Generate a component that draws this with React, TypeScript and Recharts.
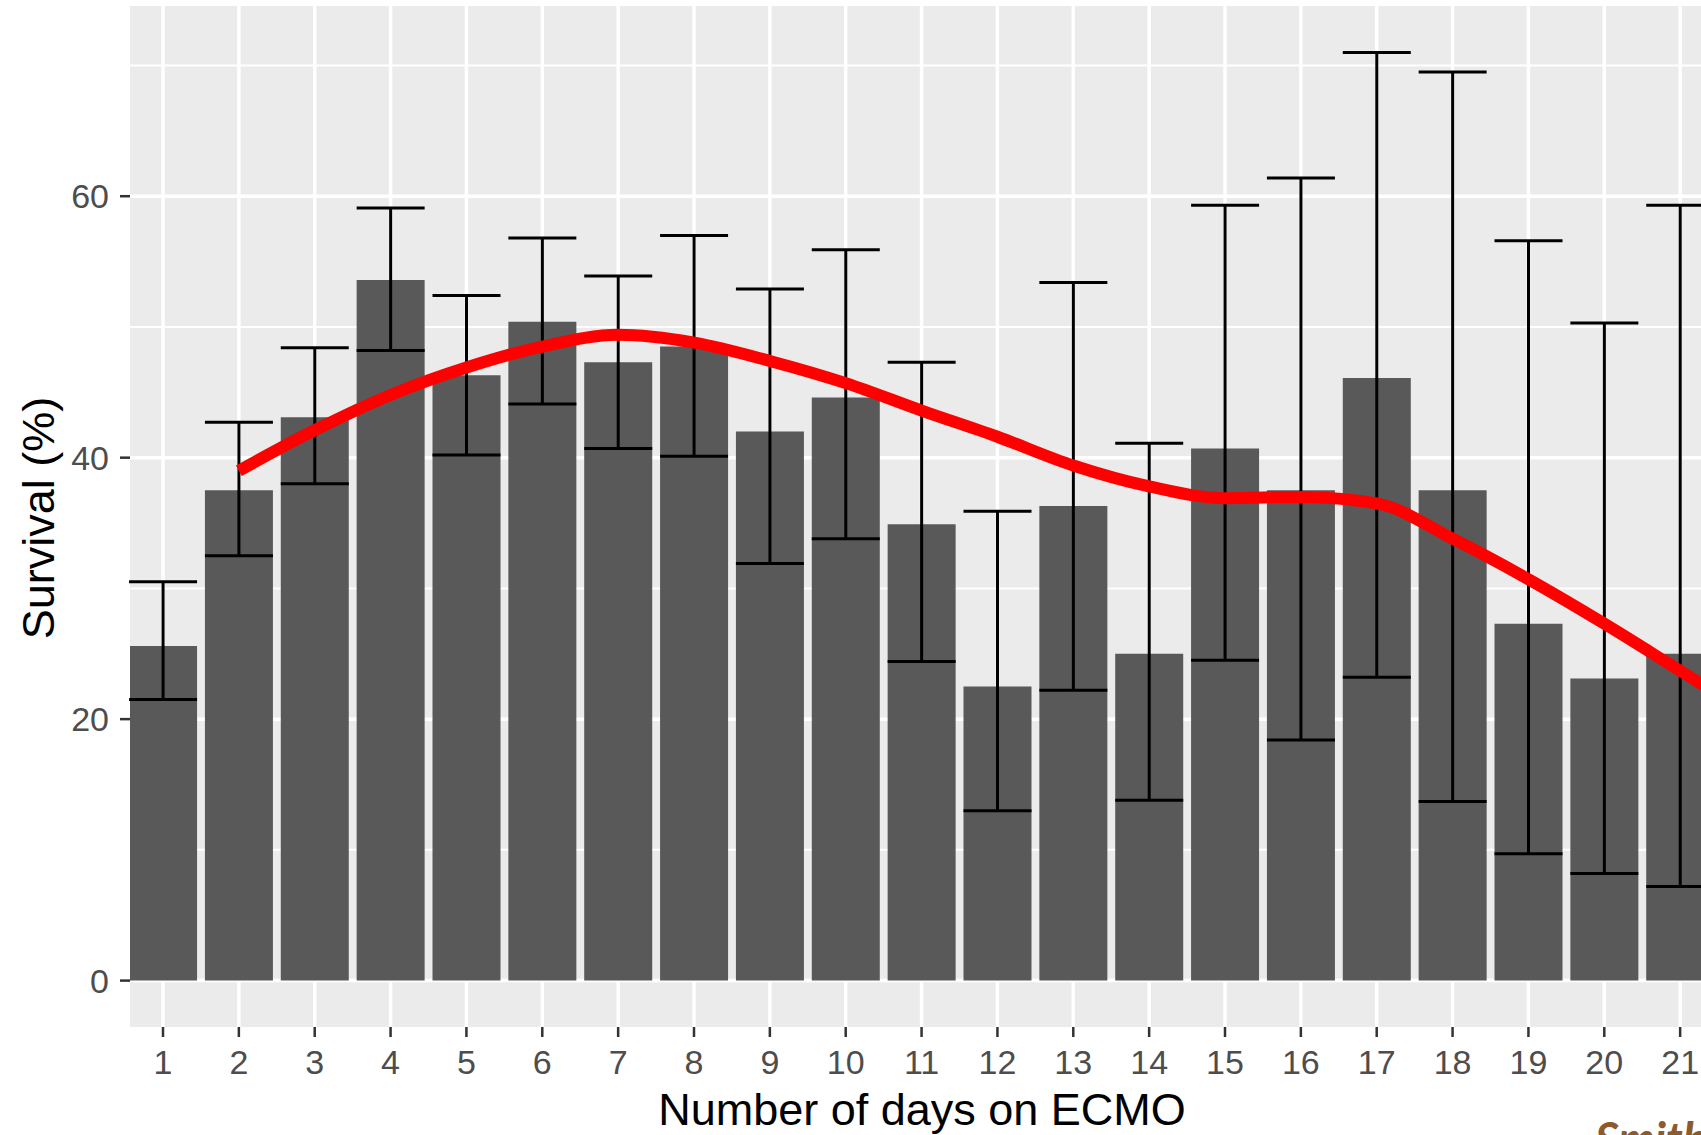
import {
  Bar,
  CartesianGrid,
  ComposedChart,
  ErrorBar,
  Line,
  XAxis,
  YAxis,
} from 'recharts';

// days on ECMO, survival % per day, 95% CI bounds
const days = [1, 2, 3, 4, 5, 6, 7, 8, 9, 10, 11, 12, 13, 14, 15, 16, 17, 18, 19, 20, 21];
const survival = [25.6, 37.5, 43.1, 53.6, 46.3, 50.4, 47.3, 48.5, 42.0, 44.6, 34.9, 22.5, 36.3, 25.0, 40.7, 37.5, 46.1, 37.5, 27.3, 23.1, 25.0];
const lower = [21.5, 32.5, 38.0, 48.2, 40.2, 44.1, 40.7, 40.1, 31.9, 33.8, 24.4, 13.0, 22.2, 13.8, 24.5, 18.4, 23.2, 13.7, 9.7, 8.2, 7.2];
const upper = [30.5, 42.7, 48.4, 59.1, 52.4, 56.8, 53.9, 57.0, 52.9, 55.9, 47.3, 35.9, 53.4, 41.1, 59.3, 61.4, 71.0, 69.5, 56.6, 50.3, 59.3];

// smoothed trend (red curve)
const fitDays = [2, 3, 4, 5, 6, 7, 8, 9, 10, 11, 12, 13, 14, 15, 16, 17, 18, 19, 20, 21, 21.5];
const fitValues = [39.0, 42.1, 44.8, 46.9, 48.5, 49.4, 48.8, 47.4, 45.7, 43.6, 41.6, 39.4, 37.8, 36.9, 37.0, 36.5, 33.8, 30.7, 27.3, 23.7, 21.9];

const yMajor = [0, 20, 40, 60];
const yMinor = [10, 30, 50, 70];
const xDomain = [0.565, 22.58];

const FONT = '"Liberation Sans", Arial, sans-serif';

const data = days.map((d, i) => ({
  day: d,
  survival: survival[i],
  err: [survival[i] - lower[i], upper[i] - survival[i]],
}));

const fit = fitDays.map((d, i) => ({ day: d, fit: fitValues[i] }));

export default function App() {
  return (
    <div
      style={{
        position: 'absolute',
        left: 0,
        top: 0,
        width: 1701,
        height: 1135,
        overflow: 'hidden',
        background: '#fff',
        fontFamily: FONT,
      }}
    >
      <ComposedChart
        width={1800}
        height={1135}
        data={data}
        margin={{ top: 6, right: 0, bottom: 0, left: 0 }}
      >
        <CartesianGrid
          horizontalValues={yMajor}
          verticalValues={days}
          fill="#EBEBEB"
          fillOpacity={1}
          stroke="#FFFFFF"
          strokeWidth={3.5}
        />
        <CartesianGrid horizontalValues={yMinor} vertical={false} stroke="#FFFFFF" strokeWidth={2} />
        <XAxis
          dataKey="day"
          type="number"
          domain={xDomain}
          ticks={days}
          interval={0}
          allowDataOverflow
          height={108}
          axisLine={false}
          tickSize={10}
          tickMargin={13}
          tickLine={{ stroke: '#333333', strokeWidth: 2.5 }}
          tick={{ fontSize: 34, fill: '#4D4D4D', fontFamily: FONT }}
        />
        {/* separate hidden axis so the curve's points don't shrink the bar band */}
        <XAxis xAxisId="fit" dataKey="day" type="number" domain={xDomain} allowDataOverflow hide />
        <YAxis
          type="number"
          domain={[-3.55, 74.55]}
          ticks={yMajor}
          allowDataOverflow
          width={130}
          axisLine={false}
          tickSize={10}
          tickMargin={11}
          tickLine={{ stroke: '#333333', strokeWidth: 2.5 }}
          tick={{ fontSize: 34, fill: '#4D4D4D', fontFamily: FONT }}
        />
        <Bar dataKey="survival" fill="#595959" barSize={68} isAnimationActive={false}>
          <ErrorBar dataKey="err" width={34} stroke="#000000" strokeWidth={3} isAnimationActive={false} />
        </Bar>
        <Line
          xAxisId="fit"
          data={fit}
          dataKey="fit"
          type="monotone"
          stroke="#FF0000"
          strokeWidth={12}
          dot={false}
          activeDot={false}
          isAnimationActive={false}
        />
      </ComposedChart>

      <div
        style={{
          position: 'absolute',
          left: 922,
          top: 1087,
          transform: 'translateX(-50%)',
          fontSize: 45,
          lineHeight: 1,
          whiteSpace: 'nowrap',
          color: '#000',
        }}
      >
        Number of days on ECMO
      </div>
      <div
        style={{
          position: 'absolute',
          left: 38,
          top: 518,
          transform: 'translate(-50%, -50%) rotate(-90deg)',
          fontSize: 45,
          lineHeight: 1,
          whiteSpace: 'nowrap',
          color: '#000',
        }}
      >
        Survival (%)
      </div>
      <div
        style={{
          position: 'absolute',
          left: 1595,
          top: 1115,
          fontFamily: 'Lato, sans-serif',
          fontStyle: 'italic',
          fontWeight: 700,
          fontSize: 46,
          lineHeight: 1,
          whiteSpace: 'nowrap',
          color: '#8C5A2B',
        }}
      >
        Smith et al.
      </div>
    </div>
  );
}
